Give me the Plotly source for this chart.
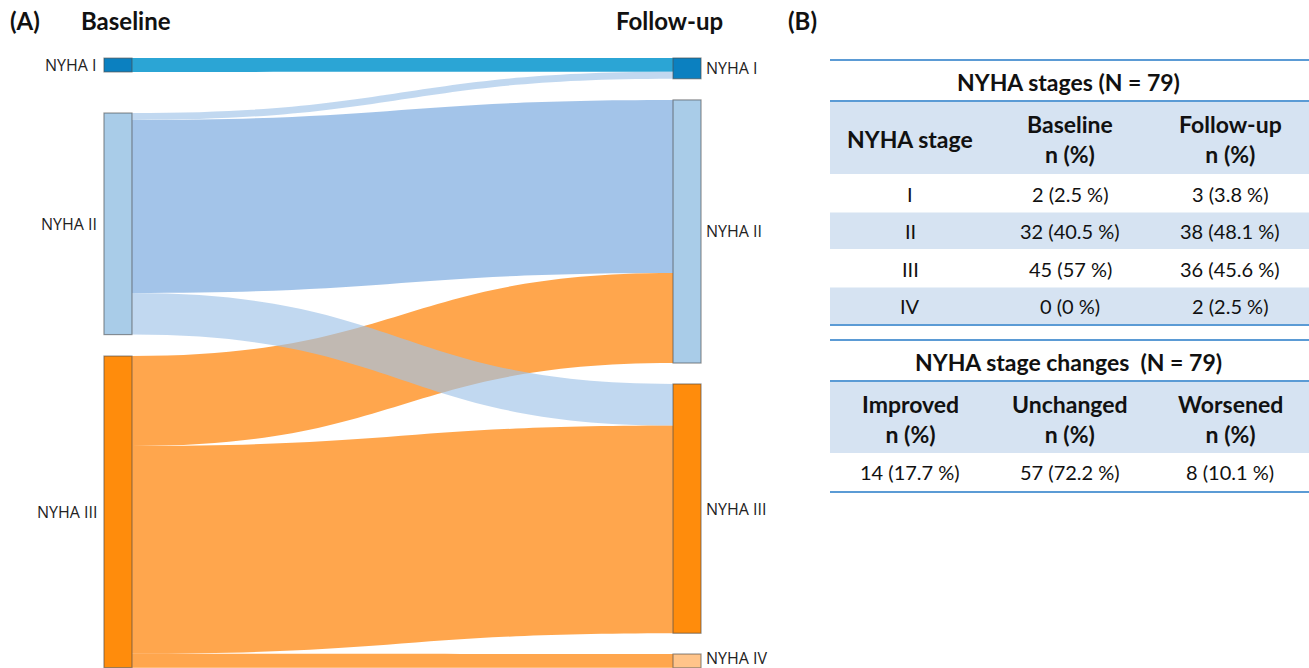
import plotly.graph_objects as go

W, H = 1309, 668

# ---------------- data ----------------
node_labels = ["NYHA I", "NYHA II", "NYHA III", "NYHA I", "NYHA II", "NYHA III", "NYHA IV"]
link_source = [0, 1, 2, 2, 2, 1, 1]
link_target = [3, 4, 4, 5, 6, 3, 5]
link_value = [2, 25, 13, 30, 2, 1, 6]

stage_names = ["I", "II", "III", "IV"]
baseline_txt = ["2 (2.5 %)", "32 (40.5 %)", "45 (57 %)", "0 (0 %)"]
followup_txt = ["3 (3.8 %)", "38 (48.1 %)", "36 (45.6 %)", "2 (2.5 %)"]
stage_headers = ["NYHA stage", "Baseline<br>n (%)", "Follow-up<br>n (%)"]
change_headers = ["Improved<br>n (%)", "Unchanged<br>n (%)", "Worsened<br>n (%)"]
change_txt = ["14 (17.7 %)", "57 (72.2 %)", "8 (10.1 %)"]

# ---------------- styling ----------------
node_colors = ["#0b80c0", "#a9cce8", "#ff8c0c", "#0b80c0", "#a9cce8", "#ff8c0c", "#ffc48a"]
orange_link = "rgba(255,136,18,0.75)"
link_colors = ["rgba(20,155,208,0.9)", "rgba(120,168,222,0.68)", orange_link, orange_link,
               orange_link, "rgba(160,195,232,0.65)", "rgba(160,195,232,0.65)"]
node_x = [0.001, 0.001, 0.001, 0.999, 0.999, 0.999, 0.999]
node_y = [0.0115, 0.2718, 0.744, 0.017, 0.2844, 0.7387, 0.9884]

dom_x0, dom_x1 = 117.4, 687.6
dom_top = 58
dom_h = H - dom_top

fig = go.Figure(go.Sankey(
    arrangement="fixed",
    domain=dict(x=[dom_x0 / W, dom_x1 / W], y=[0, 1 - dom_top / H]),
    node=dict(label=[""] * len(node_labels), color=node_colors, x=node_x, y=node_y,
              pad=21, thickness=28, line=dict(color="rgba(70,70,70,0.55)", width=1.2),
              hoverinfo="none"),
    link=dict(source=link_source, target=link_target, value=link_value,
              color=link_colors, hoverinfo="none"),
))

annotations = []
shapes = []

# node labels
for i, lab in enumerate(node_labels):
    ypx = dom_top + node_y[i] * dom_h
    if i == 6:
        ypx = min(ypx, H - 10)
    left = node_x[i] < 0.5
    annotations.append(dict(
        x=(dom_x0 - 18) / W if left else (dom_x1 + 16) / W, y=1 - ypx / H,
        xref="paper", yref="paper", text=lab, showarrow=False,
        xanchor="right" if left else "left", yanchor="middle",
        font=dict(family="Open Sans, Arial", size=16, color="#222")))

# panel titles
for txt, xpx in [("(A)", 8), ("Baseline", 79), ("Follow-up", 614), ("(B)", 786)]:
    annotations.append(dict(x=xpx / W, y=1 - 20 / H, xref="paper", yref="paper",
                            text=f"<b>{txt}</b>", showarrow=False, xanchor="left",
                            yanchor="middle",
                            font=dict(family="Lato, Open Sans", size=24, color="#111")))

# ---------------- tables ----------------
tx0, tx1 = 830, 1309
col_c = [910, 1070, 1230]
line_col = "#5b9bd5"
band_col = "#d6e3f2"
tfont = "Lato, Open Sans"


def px_y(v):
    return 1 - v / H


def hline(ypx, width=2):
    shapes.append(dict(type="line", xref="paper", yref="paper", x0=tx0 / W, x1=tx1 / W,
                       y0=px_y(ypx), y1=px_y(ypx), line=dict(color=line_col, width=width)))


def band(y0, y1, color):
    shapes.append(dict(type="rect", xref="paper", yref="paper", x0=tx0 / W, x1=tx1 / W,
                       y0=px_y(y1), y1=px_y(y0), fillcolor=color, line=dict(width=0),
                       layer="below"))


def text(xpx, ypx, s, size, bold=False):
    annotations.append(dict(x=xpx / W, y=px_y(ypx), xref="paper", yref="paper",
                            text=f"<b>{s}</b>" if bold else s, showarrow=False,
                            xanchor="center", yanchor="middle",
                            font=dict(family=tfont, size=size, color="#111")))


# table 1
hline(60)
text(1068, 82, "NYHA stages (N = 79)", 23, True)
band(101, 174, band_col)
hline(101)
for c, h in zip(col_c, stage_headers):
    text(c, 139, h, 23, True)
row_top = 174
row_h = 37.5
for r, (s, b, f) in enumerate(zip(stage_names, baseline_txt, followup_txt)):
    y0 = row_top + r * row_h
    if r % 2 == 1:
        band(y0 + 1, y0 + row_h, band_col)
    yc = y0 + row_h / 2 + 1
    text(col_c[0], yc, s, 20)
    text(col_c[1], yc, b, 20)
    text(col_c[2], yc, f, 20)
hline(row_top + 4 * row_h + 1)

# table 2
hline(340)
text(1068, 362, "NYHA stage changes  (N = 79)", 23, True)
band(381, 453, band_col)
hline(381)
for c, h in zip(col_c, change_headers):
    text(c, 419, h, 23, True)
for c, v in zip(col_c, change_txt):
    text(c, 472, v, 20)
hline(492)

fig.update_layout(width=W, height=H, margin=dict(l=0, r=0, t=0, b=0),
                  paper_bgcolor="white", plot_bgcolor="white",
                  annotations=annotations, shapes=shapes, showlegend=False)

fig.write_html("out.html", config={"displayModeBar": False},
               post_script="document.body.style.margin='0';document.body.style.overflow='hidden';")
